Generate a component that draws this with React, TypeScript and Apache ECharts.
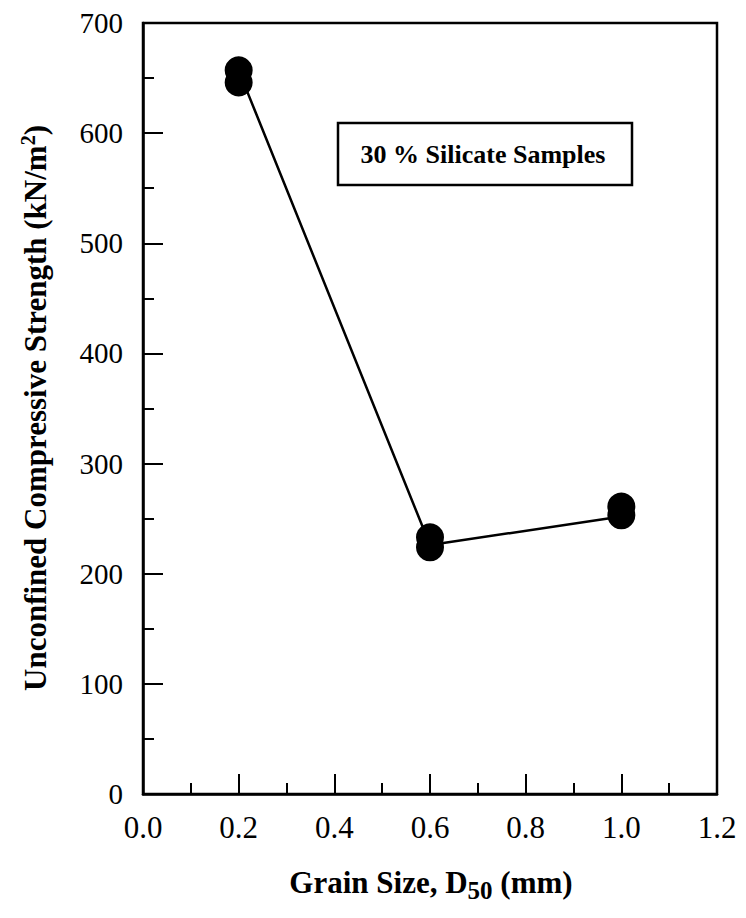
import React, { useEffect, useRef } from "react";
import * as echarts from "echarts";

const grainSizes = [0.2, 0.6, 1.0];
const sampleA = [657, 233, 261];
const sampleB = [646, 224, 253];
const trendLine = [657, 226, 252];
const xTicks = ["0.0", "0.2", "0.4", "0.6", "0.8", "1.0", "1.2"];
const yTicks = [0, 100, 200, 300, 400, 500, 600, 700];

const FONT = "'Liberation Serif', 'Times New Roman', serif";

export default function App() {
  const ref = useRef<HTMLDivElement>(null);
  useEffect(() => {
    if (!ref.current) return;
    const chart = echarts.init(ref.current, null, { renderer: "svg" });
    const points: number[][] = [];
    grainSizes.forEach((g, i) => {
      points.push([g, sampleA[i]]);
      points.push([g, sampleB[i]]);
    });
    chart.setOption({
      animation: false,
      backgroundColor: "#fff",
      grid: {
        left: 143,
        top: 23,
        right: 29,
        bottom: 124,
        show: true,
        borderColor: "#000",
        borderWidth: 2.5,
        backgroundColor: "transparent",
      },
      xAxis: {
        type: "value",
        min: 0,
        max: 1.2,
        interval: 0.2,
        axisLine: { show: true, lineStyle: { color: "#000", width: 2.5 } },
        axisTick: { show: true, inside: true, length: 20, lineStyle: { color: "#000", width: 2 } },
        minorTick: { show: true, splitNumber: 2, length: 11, lineStyle: { color: "#000", width: 2 } },
        splitLine: { show: false },
        axisLabel: {
          color: "#000",
          fontFamily: FONT,
          fontSize: 31,
          margin: 18,
          formatter: (v: number) => {
            const idx = Math.round(v / 0.2);
            return xTicks[idx] ?? v.toFixed(1);
          },
        },
      },
      yAxis: {
        type: "value",
        min: 0,
        max: 700,
        interval: 100,
        axisLine: { show: true, lineStyle: { color: "#000", width: 2.5 } },
        axisTick: { show: true, inside: true, length: 20, lineStyle: { color: "#000", width: 2 } },
        minorTick: { show: true, splitNumber: 2, length: 11, lineStyle: { color: "#000", width: 2 } },
        splitLine: { show: false },
        axisLabel: {
          color: "#000",
          fontFamily: FONT,
          fontSize: 29,
          margin: 20,
          formatter: (v: number) => (yTicks.includes(v) ? String(v) : ""),
        },
      },
      series: [
        {
          type: "line",
          data: grainSizes.map((g, i) => [g, trendLine[i]]),
          symbol: "none",
          lineStyle: { color: "#000", width: 2.5 },
          z: 2,
        },
        {
          type: "scatter",
          data: points,
          symbol: "circle",
          symbolSize: 28,
          itemStyle: { color: "#000", opacity: 1 },
          z: 3,
        },
      ],
      graphic: [
        {
          type: "text",
          x: 35,
          y: 408,
          rotation: Math.PI / 2,
          style: {
            text: "Unconfined Compressive Strength (kN/m{sup|2})",
            fontFamily: FONT,
            fontWeight: "bold",
            fontSize: 31,
            fill: "#000",
            align: "center",
            verticalAlign: "middle",
            rich: {
              sup: {
                fontFamily: FONT,
                fontWeight: "bold",
                fontSize: 20,
                verticalAlign: "top",
                padding: [0, 0, 14, 0],
              },
            },
          },
        },
        {
          type: "text",
          x: 431,
          y: 882,
          style: {
            text: "Grain Size, D{sub|50} (mm)",
            fontFamily: FONT,
            fontWeight: "bold",
            fontSize: 31,
            fill: "#000",
            align: "center",
            verticalAlign: "middle",
            rich: {
              sub: {
                fontFamily: FONT,
                fontWeight: "bold",
                fontSize: 25,
                padding: [16, 0, 0, 0],
              },
            },
          },
        },
        {
          type: "rect",
          shape: { x: 338, y: 123, width: 294, height: 62 },
          style: { fill: "#fff", stroke: "#000", lineWidth: 2.5 },
          z: 10,
        },
        {
          type: "text",
          x: 483,
          y: 154,
          z: 11,
          style: {
            text: "30 % Silicate Samples",
            fontFamily: FONT,
            fontWeight: "bold",
            fontSize: 26,
            fill: "#000",
            align: "center",
            verticalAlign: "middle",
          },
        },
      ],
    });
    return () => chart.dispose();
  }, []);
  return (
    <div
      ref={ref}
      style={{ position: "fixed", left: 0, top: 0, width: 746, height: 918, background: "#fff" }}
    />
  );
}
